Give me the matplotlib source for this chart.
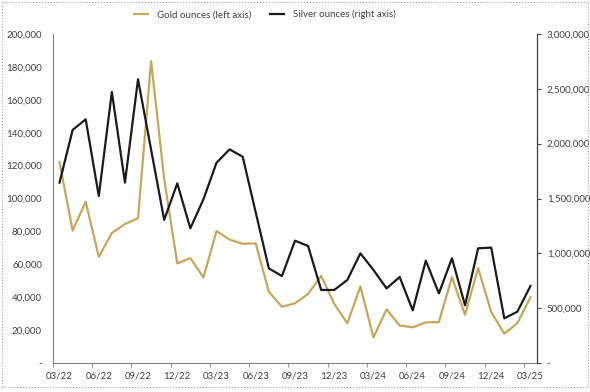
import matplotlib.pyplot as plt
from matplotlib.patches import Rectangle
from matplotlib.ticker import FuncFormatter, MultipleLocator

months = ['03/22', '04/22', '05/22', '06/22', '07/22', '08/22', '09/22', '10/22', '11/22',
          '12/22', '01/23', '02/23', '03/23', '04/23', '05/23', '06/23', '07/23', '08/23',
          '09/23', '10/23', '11/23', '12/23', '01/24', '02/24', '03/24', '04/24', '05/24',
          '06/24', '07/24', '08/24', '09/24', '10/24', '11/24', '12/24', '01/25', '02/25',
          '03/25']

# Gold ounces, left axis
gold = [122000, 80500, 98000, 64500, 79000, 84500, 88000, 183500, 112000,
        60500, 63800, 52000, 80200, 75000, 72500, 72700, 43300, 34200,
        36300, 42000, 53000, 36000, 24100, 46500, 15500, 32600, 22800,
        21700, 24700, 24900, 52200, 29300, 57700, 31000, 17800, 24200,
        40000]

# Silver ounces, right axis
silver = [1645000, 2125000, 2222000, 1523000, 2471000, 1645000, 2587000, 1945000, 1305000,
          1638000, 1228000, 1493000, 1826000, 1948000, 1881000, 1372000, 863000, 793000,
          1115000, 1067000, 666000, 666000, 757000, 1000000, 848000, 680000, 784000,
          480000, 933000, 635000, 955000, 526000, 1046000, 1052000, 407000, 468000,
          702000]

GOLD = '#C5A65B'
BLACK = '#1a1a1a'
TXT = '#404040'
FS = 7
plt.rcParams['font.family'] = ['Lato', 'DejaVu Sans']


def fmt(v, pos):
    return '-' if v == 0 else f'{v:,.0f}'


fig = plt.figure(figsize=(5.9, 3.92), dpi=100)
ax = fig.add_axes([53 / 590, 1 - 363 / 392, 484 / 590, 329 / 392])
ax2 = ax.twinx()

x = range(len(months))
l1, = ax.plot(x, gold, color=GOLD, lw=1.6, label='Gold ounces (left axis)')
l2, = ax2.plot(x, silver, color=BLACK, lw=1.6, label='Silver ounces (right axis)')

ax.set_xlim(-0.5, len(months) - 0.5)
ax.set_ylim(0, 200000)
ax2.set_ylim(0, 3000000)
ax.yaxis.set_major_locator(MultipleLocator(20000))
ax2.yaxis.set_major_locator(MultipleLocator(500000))
ax.yaxis.set_major_formatter(FuncFormatter(fmt))
ax2.yaxis.set_major_formatter(FuncFormatter(fmt))

ax.set_xticks(list(x)[::3])
ax.set_xticklabels(months[::3])
ax.set_xticks([i - 0.5 for i in range(0, len(months), 3)], minor=True)
ax.tick_params(axis='x', which='major', length=0, pad=6, labelsize=FS, colors=TXT)
ax.tick_params(axis='x', which='minor', length=3, color='#808080')
ax.tick_params(axis='y', length=0, pad=8, labelsize=FS, colors=TXT)
ax2.tick_params(axis='y', length=3, pad=4, labelsize=FS, colors=TXT, color=TXT)

for a in (ax, ax2):
    a.spines['top'].set_visible(False)
ax.spines['left'].set_color('#808080')
ax.spines['bottom'].set_color('#808080')
ax2.spines['left'].set_visible(False)
ax2.spines['bottom'].set_visible(False)
ax2.spines['right'].set_color(TXT)

fig.legend(handles=[l1, l2], loc='center', bbox_to_anchor=(0.449, 0.963), ncol=2,
           frameon=False, fontsize=FS, handlelength=1.5, handletextpad=0.9,
           columnspacing=1.9, labelcolor=TXT)

# dotted chart border
fig.patches.append(Rectangle((2 / 590, 5 / 392), 586 / 590, 385 / 392, transform=fig.transFigure,
                             fill=False, ls=':', lw=0.8, ec='#a0a0a0'))

fig.savefig('out.png', dpi=100)
